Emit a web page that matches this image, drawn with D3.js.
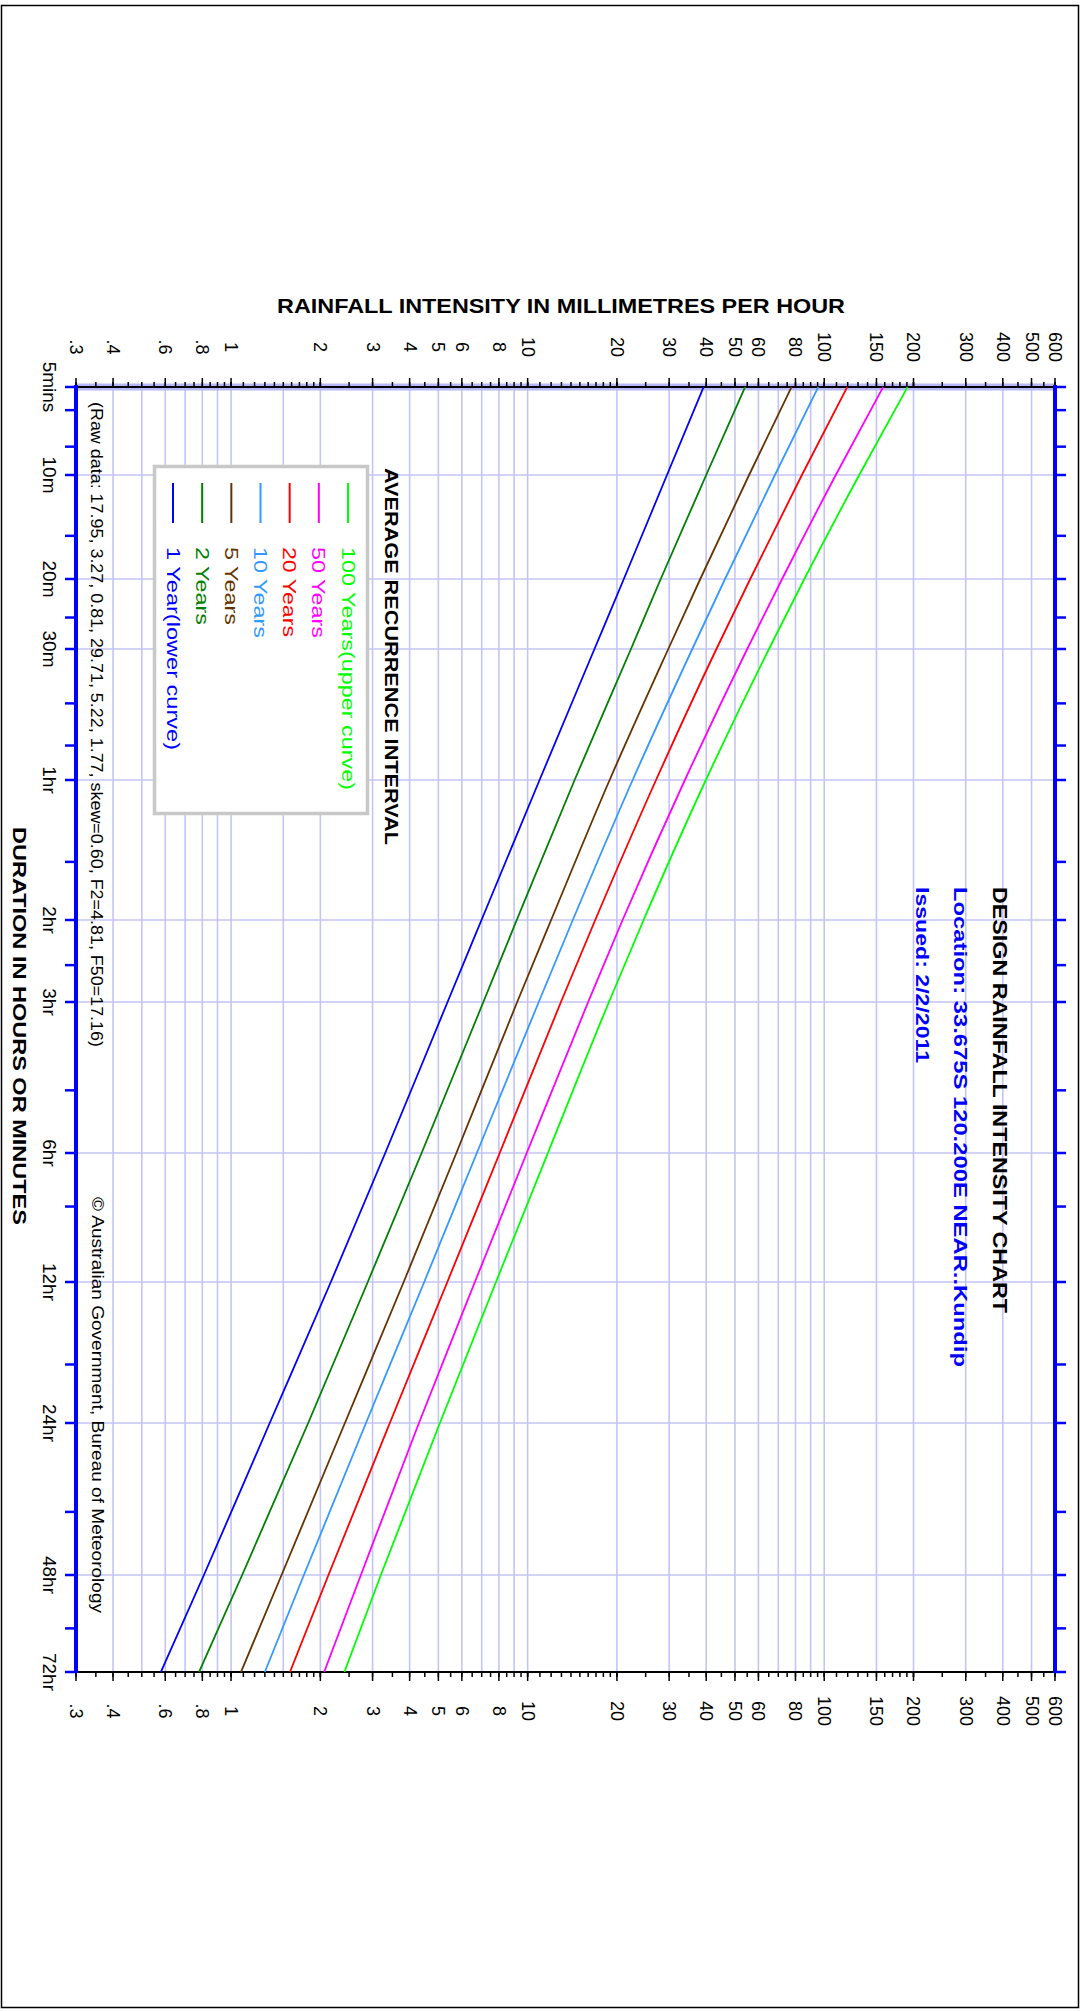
<!DOCTYPE html>
<html>
<head>
<meta charset="utf-8">
<title>Design Rainfall Intensity Chart</title>
<style>
body { margin: 0; background: #fff; }
svg { display: block; font-family: "Liberation Sans", Arial, sans-serif; }
</style>
</head>
<body>
<svg width="1081" height="2011"></svg>
<script src="https://cdn.jsdelivr.net/npm/d3@7/dist/d3.min.js"></script>
<script>
// durations in minutes, and their labels
var durations = [5, 10, 20, 30, 60, 120, 180, 360, 720, 1440, 2880, 4320];
var durationLabels = ["5mins", "10m", "20m", "30m", "1hr", "2hr", "3hr", "6hr", "12hr", "24hr", "48hr", "72hr"];
var durationMinor = [6, 8, 15, 25, 40, 50, 90, 150, 270, 480, 1080, 2160, 3600];

// intensity axis (mm/h)
var intensityLabels = [0.3, 0.4, 0.6, 0.8, 1, 2, 3, 4, 5, 6, 8, 10, 20, 30, 40, 50, 60, 80, 100, 150, 200, 300, 400, 500, 600];
var intensityGrid = [0.4, 0.5, 0.6, 0.7, 0.8, 0.9, 1, 1.5, 2, 3, 4, 5, 6, 7, 8, 9, 10, 20, 30, 40, 50, 60, 70, 80, 90, 100, 150, 200, 300, 400, 500];

// curves, one value per duration
var ari100 = [191, 131.2, 85.7, 65.1, 39.9, 24.6, 18.8, 11.7, 7.82, 5.06, 3.2, 2.41];
var ari50  = [158, 109.4, 72.1, 55.0, 33.9, 20.9, 16.0, 9.93, 6.64, 4.3, 2.74, 2.06];
var ari20  = [119.6, 84.1, 56.3, 43.3, 27.1, 16.9, 12.95, 8.05, 5.36, 3.43, 2.13, 1.58];
var ari10  = [95.5, 68.2, 46.3, 35.9, 22.6, 14.2, 10.9, 6.74, 4.48, 2.85, 1.76, 1.3];
var ari5   = [77.6, 55.8, 38.2, 29.8, 18.9, 12.0, 9.22, 5.75, 3.82, 2.42, 1.48, 1.08];
var ari2   = [54.1, 40.0, 28.1, 22.3, 14.4, 9.19, 7.09, 4.39, 2.89, 1.82, 1.09, 0.78];
var ari1   = [39.2, 29.5, 21.1, 16.8, 10.97, 6.99, 5.37, 3.31, 2.17, 1.35, 0.81, 0.58];

var seriesNames = ["100 Years(upper curve)", "50 Years", "20 Years", "10 Years", "5 Years", "2 Years", "1 Year(lower curve)"];
var seriesColors = ["#00ff00", "#ff00ff", "#ff0000", "#3399ff", "#663300", "#008000", "#0000ff"];
var series = [ari100, ari50, ari20, ari10, ari5, ari2, ari1];

var svg = d3.select("svg");

var plotLeft = 76, plotRight = 1055, plotTop = 387, plotBottom = 1672;

// intensity runs left -> right, duration runs top -> bottom (chart is turned on its side)
var x = d3.scaleLog().domain([0.3, 600]).range([plotLeft, plotRight]);
var y = d3.scaleLog()
    .domain(durations)
    .range([387, 475, 579, 649, 780, 920, 1002, 1153, 1282, 1423, 1575, 1672]);

var fmt = function(v) { return v < 1 ? String(v).replace(/^0/, "") : String(v); };

// page frame
svg.append("rect")
    .attr("x", 1.5).attr("y", 5.5)
    .attr("width", 1077).attr("height", 2002)
    .attr("fill", "none").attr("stroke", "#000").attr("stroke-width", 1.5);

// grid
var grid = svg.append("g").attr("stroke", "#c4c4f6").attr("stroke-width", 1.6);
grid.selectAll(".gx").data(intensityGrid).enter().append("line")
    .attr("x1", d => x(d)).attr("x2", d => x(d))
    .attr("y1", plotTop).attr("y2", plotBottom);
grid.selectAll(".gy").data(durations).enter().append("line")
    .attr("x1", plotLeft).attr("x2", plotRight)
    .attr("y1", d => y(d)).attr("y2", d => y(d));

// minor ticks for the intensity axes
var minor = [].concat(
    d3.range(0.3, 1.0001, 0.05),
    d3.range(1, 2.0001, 0.1),
    d3.range(2, 10.0001, 0.5),
    d3.range(10, 20.0001, 1),
    d3.range(20, 100.0001, 5),
    d3.range(100, 200.0001, 10),
    d3.range(200, 600.0001, 50));

// axis frame
svg.append("line").attr("x1", plotLeft).attr("x2", plotRight).attr("y1", plotTop).attr("y2", plotTop)
    .attr("stroke", "#b8b8f8").attr("stroke-width", 7);

var ticks = svg.append("g").attr("stroke", "#000").attr("stroke-width", 1.5);
ticks.selectAll(".tt").data(minor).enter().append("line")
    .attr("x1", d => x(d)).attr("x2", d => x(d))
    .attr("y1", plotTop).attr("y2", plotTop - 5);
ticks.selectAll(".tb").data(minor).enter().append("line")
    .attr("x1", d => x(d)).attr("x2", d => x(d))
    .attr("y1", plotBottom).attr("y2", plotBottom + 5);
ticks.selectAll(".tt2").data(intensityLabels).enter().append("line")
    .attr("x1", d => x(d)).attr("x2", d => x(d))
    .attr("y1", plotTop).attr("y2", plotTop - 9);
ticks.selectAll(".tb2").data(intensityLabels).enter().append("line")
    .attr("x1", d => x(d)).attr("x2", d => x(d))
    .attr("y1", plotBottom).attr("y2", plotBottom + 9);

svg.append("line").attr("x1", plotLeft).attr("x2", plotRight).attr("y1", plotTop).attr("y2", plotTop)
    .attr("stroke", "#000").attr("stroke-width", 2);
svg.append("line").attr("x1", plotLeft).attr("x2", plotRight).attr("y1", plotBottom).attr("y2", plotBottom)
    .attr("stroke", "#000").attr("stroke-width", 2);
svg.append("line").attr("x1", plotLeft).attr("x2", plotLeft).attr("y1", plotTop - 2).attr("y2", plotBottom + 1)
    .attr("stroke", "#0000ff").attr("stroke-width", 4);
svg.append("line").attr("x1", plotRight).attr("x2", plotRight).attr("y1", plotTop - 2).attr("y2", plotBottom + 1)
    .attr("stroke", "#0000ff").attr("stroke-width", 4);

var durTicks = durations.concat(durationMinor);
var side = svg.append("g").attr("stroke", "#0000ff").attr("stroke-width", 2.5);
side.selectAll(".l").data(durTicks).enter().append("line")
    .attr("x1", plotLeft - 11).attr("x2", plotLeft)
    .attr("y1", d => y(d)).attr("y2", d => y(d));
side.selectAll(".r").data(durTicks).enter().append("line")
    .attr("x1", plotRight).attr("x2", plotRight + 11)
    .attr("y1", d => y(d)).attr("y2", d => y(d));

// text turned 90 degrees, reading downwards
function vtext(g, cx, ty, str, o) {
  o = o || {};
  var t = g.append("text")
      .attr("transform", "translate(" + cx + "," + ty + ") rotate(90)")
      .attr("dominant-baseline", "central")
      .attr("text-anchor", o.anchor || "start")
      .attr("font-size", o.size || 18)
      .attr("font-weight", o.weight || "normal")
      .attr("fill", o.fill || "#000")
      .text(str);
  if (o.len) t.attr("textLength", o.len).attr("lengthAdjust", "spacingAndGlyphs");
  return t;
}

var labels = svg.append("g");
intensityLabels.forEach(function(v) {
  vtext(labels, x(v), 347, fmt(v), {anchor: "middle", size: 18});
  vtext(labels, x(v), 1711, fmt(v), {anchor: "middle", size: 18});
});
durations.forEach(function(d, i) {
  vtext(labels, 49, y(d), durationLabels[i], {anchor: "middle", size: 19});
});

// titles
svg.append("text")
    .attr("x", 561).attr("y", 313)
    .attr("text-anchor", "middle")
    .attr("font-size", 20).attr("font-weight", "bold")
    .attr("textLength", 568).attr("lengthAdjust", "spacingAndGlyphs")
    .text("RAINFALL INTENSITY IN MILLIMETRES PER HOUR");
vtext(svg, 19, 827, "DURATION IN HOURS OR MINUTES", {size: 18, weight: "bold", len: 398});

vtext(svg, 1000, 887, "DESIGN RAINFALL INTENSITY CHART", {size: 21, weight: "bold", len: 426});
vtext(svg, 960, 887, "Location: 33.675S  120.200E  NEAR..Kundip", {size: 19, weight: "bold", fill: "#0000ff", len: 480});
vtext(svg, 922, 887, "Issued: 2/2/2011", {size: 19, weight: "bold", fill: "#0000ff", len: 176});

vtext(svg, 96, 402, "(Raw data: 17.95, 3.27, 0.81, 29.71, 5.22, 1.77, skew=0.60, F2=4.81, F50=17.16)", {size: 17, len: 645});
vtext(svg, 97, 1197, "\u00a9 Australian Government, Bureau of Meteorology", {size: 17, len: 416});

// curves
var line = d3.line()
    .x(d => x(d[1]))
    .y(d => y(d[0]))
    .curve(d3.curveMonotoneY);

svg.append("g").selectAll("path")
    .data(series)
    .enter().append("path")
    .attr("d", s => line(s.map((v, i) => [durations[i], v])))
    .attr("fill", "none")
    .attr("stroke", (s, i) => seriesColors[i])
    .attr("stroke-width", 1.8);

// legend
var legend = svg.append("g");
legend.append("rect")
    .attr("x", 154.5).attr("y", 466.5)
    .attr("width", 213).attr("height", 347)
    .attr("fill", "#fff").attr("stroke", "#c8c8c8").attr("stroke-width", 3.5);
vtext(legend, 391, 468, "AVERAGE RECURRENCE INTERVAL", {size: 19, weight: "bold", len: 377});

var legendX = d3.scaleLinear().domain([0, seriesNames.length - 1]).range([348, 173]);
var legendLens = [243, 91, 90, 91, 78, 78, 203];
seriesNames.forEach(function(n, i) {
  legend.append("line")
      .attr("x1", legendX(i)).attr("x2", legendX(i))
      .attr("y1", 483).attr("y2", 523)
      .attr("stroke", seriesColors[i]).attr("stroke-width", 2);
  vtext(legend, legendX(i), 547, n, {size: 19, fill: seriesColors[i], len: legendLens[i]});
});
</script>
</body>
</html>
